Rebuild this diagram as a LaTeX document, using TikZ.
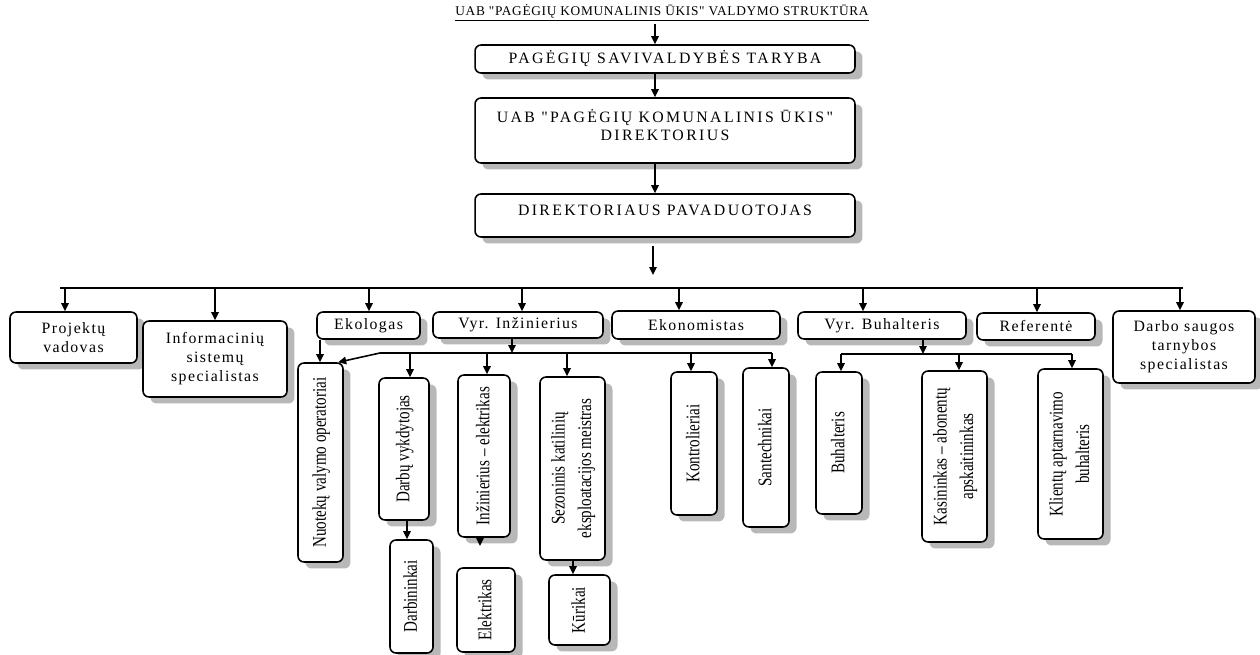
\documentclass[tikz,border=0pt]{standalone}
\usepackage{fontspec}
\setmainfont{Liberation Serif}
\newfontfamily\titlefont[LetterSpace=5]{Liberation Serif}
\newfontfamily\capsfont[LetterSpace=15]{Liberation Serif}
\newfontfamily\spacedfont[LetterSpace=9]{Liberation Serif}
\newfontfamily\narrowfont[FakeStretch=0.78]{Liberation Serif}
\usepackage{graphicx}
\usetikzlibrary{arrows.meta,shadows}

\newcommand{\vlabel}[1]{\rotatebox{90}{\renewcommand{\arraystretch}{1.15}\begin{tabular}{@{}c@{}}#1\end{tabular}}}

\begin{document}
\begin{tikzpicture}[x=0.02cm, y=-0.02cm]
        \tikzstyle{box}=[draw, line width=0.9pt, rounded corners=0.12cm, fill=white, inner sep=0pt, align=center, drop shadow={shadow xshift=0.15cm, shadow yshift=-0.13cm, fill=black!35, opacity=0.8}];
        \tikzstyle{cbox}=[box, font=\capsfont\fontsize{9}{10.2}\selectfont];
        \tikzstyle{hbox}=[box, font=\spacedfont\fontsize{9}{10.8}\selectfont];
        \tikzstyle{vbox}=[box, font=\narrowfont\fontsize{11}{13.2}\selectfont];
        \tikzstyle{fleche}=[line width=0.9pt, -{Triangle[length=0.16cm, width=0.15cm]}];

        \useasboundingbox (0,0) rectangle (1260,655);
        \coordinate (spine) at (655,0);
        \coordinate (bus) at (0,288);
        \coordinate (ibus) at (0,353);
        \coordinate (bbus) at (0,354);

        \node[inner sep=1pt, font=\titlefont\fontsize{7.6}{9}\selectfont] (titre) at (662,13) {\underline{UAB "PAGĖGIŲ KOMUNALINIS ŪKIS" VALDYMO STRUKTŪRA}};
        \node[cbox, minimum width=7.6cm, minimum height=0.56cm] (taryba) at (665,59) {PAGĖGIŲ SAVIVALDYBĖS TARYBA};
        \node[cbox, minimum width=7.6cm, minimum height=1.3cm] (direktorius) at (665,130.5) {UAB "PAGĖGIŲ KOMUNALINIS ŪKIS"\\DIREKTORIUS\\[-4pt]\mbox{}};
        \node[cbox, minimum width=7.6cm, minimum height=0.86cm] (pavaduotojas) at (665,215.5) {DIREKTORIAUS PAVADUOTOJAS\\[-4pt]\mbox{}};

        \draw[fleche] (titre.south -| spine) -- (taryba.north -| spine);
        \draw[fleche] (taryba.south -| spine) -- (direktorius.north -| spine);
        \draw[fleche] (direktorius.south -| spine) -- (pavaduotojas.north -| spine);
        \coordinate (pavout) at (653,275);
        \draw[fleche, shorten <=0.16cm] (pavaduotojas.south -| pavout) -- (pavout);

        \node[hbox, minimum width=2.54cm, minimum height=1.02cm] (projektu) at (73.5,337.5) {Projektų\\vadovas};
        \node[hbox, minimum width=2.88cm, minimum height=1.52cm] (info) at (215,359) {Informacinių\\sistemų\\specialistas};
        \node[hbox, minimum width=2.06cm, minimum height=0.54cm] (ekologas) at (368.5,325.5) {Ekologas};
        \node[hbox, minimum width=3.4cm, minimum height=0.52cm] (vyrinz) at (518,325) {Vyr. Inžinierius};
        \node[hbox, minimum width=3.36cm, minimum height=0.56cm] (ekonomistas) at (696,325) {Ekonomistas};
        \node[hbox, minimum width=3.36cm, minimum height=0.54cm] (vyrbuh) at (882,325.5) {Vyr. Buhalteris};
        \node[hbox, minimum width=2.36cm, minimum height=0.54cm] (referente) at (1036,326.5) {Referentė};
        \node[hbox, minimum width=2.84cm, minimum height=1.44cm] (darbo) at (1184,347) {Darbo saugos\\tarnybos\\specialistas};

        \draw[line width=0.9pt] (60,0 |- bus) -- (1183,0 |- bus);
        \foreach \x/\n in {65/projektu, 215/info, 369/ekologas, 522/vyrinz, 679/ekonomistas, 863/vyrbuh, 1037/referente, 1180/darbo}{
          \draw[fleche] (\x,0 |- bus) -- (\x,0 |- \n.north);
        }

        \node[vbox, minimum width=0.9cm, minimum height=3.98cm] (nuoteku) at (320.5,462.5) {\vlabel{Nuotekų valymo operatoriai}};
        \node[vbox, minimum width=1cm, minimum height=2.84cm] (darbu) at (404,449) {\vlabel{Darbų vykdytojas}};
        \node[vbox, minimum width=0.86cm, minimum height=2.26cm] (darbininkai) at (411.5,596.5) {\vlabel{Darbininkai}};
        \node[vbox, minimum width=1.04cm, minimum height=3.24cm] (inzelek) at (484,456) {\vlabel{Inžinierius – elektrikas}};
        \node[vbox, minimum width=1.16cm, minimum height=1.68cm] (elektrikas) at (486,610) {\vlabel{Elektrikas}};
        \node[vbox, minimum width=1.3cm, minimum height=3.66cm] (sezon) at (572.5,468.5) {\vlabel{Sezoninis katilinių\\eksploatacijos meistras}};
        \node[vbox, minimum width=1.22cm, minimum height=1.4cm] (kurikai) at (579.5,610) {\vlabel{Kūrikai}};
        \node[vbox, minimum width=0.92cm, minimum height=2.86cm] (kontrol) at (694,443.5) {\vlabel{Kontrolieriai}};
        \node[vbox, minimum width=0.92cm, minimum height=3.18cm] (santech) at (766,447.5) {\vlabel{Santechnikai}};
        \node[vbox, minimum width=0.92cm, minimum height=2.84cm] (buhalteris) at (839,443) {\vlabel{Buhalteris}};
        \node[vbox, minimum width=1.3cm, minimum height=3.42cm] (kasinink) at (954.5,456.5) {\vlabel{Kasininkas – abonentų\\apskaitininkas}};
        \node[vbox, minimum width=1.3cm, minimum height=3.4cm] (klientu) at (1070.5,454) {\vlabel{Klientų aptarnavimo\\buhalteris}};

        \draw[fleche] (320,0 |- ekologas.south) -- (320,0 |- nuoteku.north);
        \draw[fleche] (512,0 |- vyrinz.south) -- (512,0 |- ibus);
        \draw[line width=0.9pt] (380,0 |- ibus) -- (772,0 |- ibus);
        \draw[fleche] (380,0 |- ibus) -- (nuoteku.80);
        \foreach \x/\n in {410/darbu, 487/inzelek, 567/sezon, 691/kontrol, 772/santech}{
          \draw[fleche] (\x,0 |- ibus) -- (\x,0 |- \n.north);
        }
        \draw[fleche] (407,0 |- darbu.south) -- (407,0 |- darbininkai.north);
        \draw[fleche] (573,0 |- sezon.south) -- (573,0 |- kurikai.north);
        \coordinate (elstub) at (480,546);
        \draw[fleche] (inzelek.south -| elstub) -- (elstub);

        \draw[fleche] (923,0 |- vyrbuh.south) -- (923,0 |- bbus);
        \draw[line width=0.9pt] (841,0 |- bbus) -- (1072,0 |- bbus);
        \foreach \x/\n in {841/buhalteris, 959/kasinink, 1072/klientu}{
          \draw[fleche] (\x,0 |- bbus) -- (\x,0 |- \n.north);
        }
\end{tikzpicture}
\end{document}
